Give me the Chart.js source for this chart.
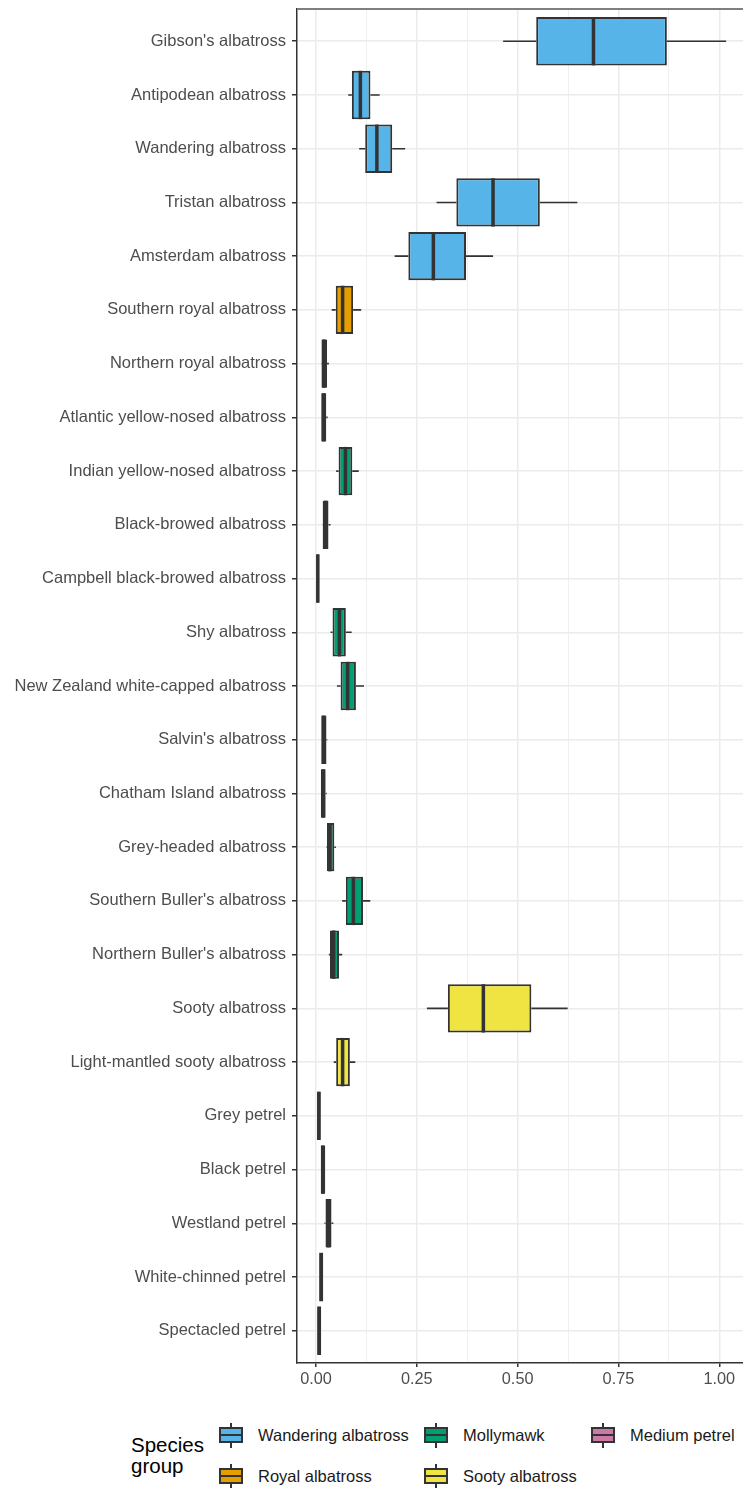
<!DOCTYPE html>
<html>
<head>
<meta charset="utf-8">
<script src="https://cdn.jsdelivr.net/npm/chart.js@4.4.1/dist/chart.umd.min.js"></script>
<style>
  html, body { margin: 0; padding: 0; background: #ffffff; }
  #wrap { position: relative; width: 743px; height: 1488px; overflow: hidden; font-family: "Liberation Sans", Arial, sans-serif; }
  #chart { position: absolute; left: 0; top: 0; }
  .title { position: absolute; left: 131px; top: 1434px; font-size: 20.5px; line-height: 21px; color: #000; }
  .lab { position: absolute; font-size: 16.5px; line-height: 18px; color: #1a1a1a; white-space: nowrap; }
  .key { position: absolute; width: 24px; height: 25px; }
  .key .wh { position: absolute; left: 11.25px; top: 0; width: 1.5px; height: 25px; background: #333333; }
  .key .bx { position: absolute; left: 0; top: 4.5px; width: 24px; height: 16px; box-sizing: border-box; border: 2px solid #333333; }
  .key .md { position: absolute; left: 0; top: 11.5px; width: 24px; height: 2px; background: #333333; }
</style>
</head>
<body>
<div id="wrap">
  <canvas id="chart" width="743" height="1400"></canvas>
  <div class="title">Species<br>group</div>
  <div id="legend"></div>
</div>
<script>
// Species, top to bottom
const species = [
  "Gibson's albatross", "Antipodean albatross", "Wandering albatross", "Tristan albatross",
  "Amsterdam albatross", "Southern royal albatross", "Northern royal albatross",
  "Atlantic yellow-nosed albatross", "Indian yellow-nosed albatross", "Black-browed albatross",
  "Campbell black-browed albatross", "Shy albatross", "New Zealand white-capped albatross",
  "Salvin's albatross", "Chatham Island albatross", "Grey-headed albatross",
  "Southern Buller's albatross", "Northern Buller's albatross", "Sooty albatross",
  "Light-mantled sooty albatross", "Grey petrel", "Black petrel", "Westland petrel",
  "White-chinned petrel", "Spectacled petrel"
];

// Species group of each row
const speciesGroup = [
  "Wandering albatross", "Wandering albatross", "Wandering albatross", "Wandering albatross",
  "Wandering albatross", "Royal albatross", "Royal albatross",
  "Mollymawk", "Mollymawk", "Mollymawk", "Mollymawk", "Mollymawk", "Mollymawk",
  "Mollymawk", "Mollymawk", "Mollymawk", "Mollymawk", "Mollymawk",
  "Sooty albatross", "Sooty albatross",
  "Medium petrel", "Medium petrel", "Medium petrel", "Medium petrel", "Medium petrel"
];

// Box statistics per species
const whiskerLow  = [0.464, 0.080, 0.107, 0.299, 0.195, 0.039, 0.013, 0.013, 0.050, 0.016, 0.001, 0.036, 0.052, 0.013, 0.012, 0.026, 0.065, 0.032, 0.275, 0.044, 0.003, 0.0117, 0.021, 0.008, 0.003];
const q1          = [0.546, 0.089, 0.122, 0.348, 0.229, 0.049, 0.0135, 0.013, 0.056, 0.0165, 0.001, 0.041, 0.061, 0.013, 0.012, 0.027, 0.074, 0.0347, 0.327, 0.050, 0.003, 0.0117, 0.0235, 0.008, 0.003];
const median      = [0.688, 0.110, 0.151, 0.439, 0.291, 0.066, 0.020, 0.019, 0.073, 0.024, 0.0045, 0.058, 0.0785, 0.019, 0.018, 0.0345, 0.0926, 0.0437, 0.415, 0.066, 0.007, 0.017, 0.031, 0.013, 0.008];
const q3          = [0.870, 0.135, 0.189, 0.555, 0.372, 0.092, 0.0275, 0.0255, 0.090, 0.031, 0.008, 0.074, 0.099, 0.026, 0.024, 0.0454, 0.1165, 0.057, 0.534, 0.084, 0.0117, 0.023, 0.0385, 0.018, 0.013];
const whiskerHigh = [1.017, 0.158, 0.221, 0.648, 0.439, 0.112, 0.032, 0.029, 0.106, 0.036, 0.008, 0.0885, 0.119, 0.028, 0.0265, 0.0495, 0.1347, 0.065, 0.624, 0.0975, 0.0117, 0.023, 0.043, 0.018, 0.013];

// Value axis ticks (labelled every 0.25, minor lines between)
const xTicks = [0, 0.125, 0.25, 0.375, 0.5, 0.625, 0.75, 0.875, 1.0];

// Legend layout order and palette
const legendGroups = ["Wandering albatross", "Royal albatross", "Mollymawk", "Sooty albatross", "Medium petrel"];
const groupColors = {
  "Wandering albatross": "#56B4E9",
  "Royal albatross": "#E69F00",
  "Mollymawk": "#009E73",
  "Sooty albatross": "#F0E442",
  "Medium petrel": "#CC79A7"
};

const FONT = '"Liberation Sans", Arial, sans-serif';
const EDGE = '#333333';
const isMajor = v => Math.abs(v * 4 - Math.round(v * 4)) < 1e-9;

// Whiskers behind the boxes, medians on top of them, plus the panel's top edge
const boxParts = {
  id: 'boxParts',
  beforeDatasetsDraw(chart) {
    const { ctx, scales: { x } } = chart;
    const meta = chart.getDatasetMeta(0);
    ctx.save();
    ctx.strokeStyle = EDGE;
    ctx.lineWidth = 1.6;
    meta.data.forEach((bar, i) => {
      const y = bar.y;
      ctx.beginPath();
      ctx.moveTo(x.getPixelForValue(whiskerLow[i]), y);
      ctx.lineTo(x.getPixelForValue(q1[i]), y);
      ctx.moveTo(x.getPixelForValue(q3[i]), y);
      ctx.lineTo(x.getPixelForValue(whiskerHigh[i]), y);
      ctx.stroke();
    });
    ctx.restore();
  },
  afterDatasetsDraw(chart) {
    const { ctx, scales: { x } } = chart;
    const meta = chart.getDatasetMeta(0);
    ctx.save();
    ctx.strokeStyle = EDGE;
    ctx.lineWidth = 3.5;
    meta.data.forEach((bar, i) => {
      const px = x.getPixelForValue(median[i]);
      ctx.beginPath();
      ctx.moveTo(px, bar.y - bar.height / 2);
      ctx.lineTo(px, bar.y + bar.height / 2);
      ctx.stroke();
    });
    ctx.restore();
  },
  afterDraw(chart) {
    const { ctx, chartArea: a } = chart;
    ctx.save();
    ctx.strokeStyle = '#7f7f7f';
    ctx.lineWidth = 2;
    ctx.beginPath();
    ctx.moveTo(a.left, a.top);
    ctx.lineTo(a.right, a.top);
    ctx.stroke();
    ctx.restore();
  }
};

new Chart(document.getElementById('chart'), {
  type: 'bar',
  data: {
    datasets: [{
      data: species.map((s, i) => ({ y: i, x: [q1[i], q3[i]] })),
      backgroundColor: speciesGroup.map(g => groupColors[g]),
      borderColor: EDGE,
      borderWidth: 2,
      borderSkipped: false,
      categoryPercentage: 1,
      barPercentage: 0.9
    }]
  },
  options: {
    indexAxis: 'y',
    responsive: false,
    animation: false,
    layout: { padding: { top: 9, left: 0, right: 0, bottom: 0 } },
    plugins: { legend: { display: false }, tooltip: { enabled: false } },
    scales: {
      x: {
        type: 'linear',
        min: -0.0471,
        max: 1.0588,
        afterBuildTicks: s => { s.ticks = xTicks.map(v => ({ value: v })); },
        afterFit: s => { s.height = 37; s.paddingLeft = 0; s.paddingRight = 0; },
        ticks: {
          callback: v => isMajor(v) ? v.toFixed(2) : '',
          color: '#4d4d4d',
          font: { family: FONT, size: 16.3 },
          padding: 3,
          maxRotation: 0,
          autoSkip: false
        },
        grid: {
          color: '#ebebeb',
          lineWidth: c => (c.tick && isMajor(c.tick.value)) ? 1.5 : 0.8,
          tickLength: 4,
          tickWidth: 1.5,
          tickColor: c => (c.tick && isMajor(c.tick.value)) ? EDGE : 'rgba(0,0,0,0)'
        },
        border: { display: true, color: EDGE, width: 1.5 }
      },
      y: {
        type: 'linear',
        reverse: true,
        offset: false,
        min: -0.6,
        max: species.length - 1 + 0.6,
        afterBuildTicks: s => { s.ticks = species.map((_, i) => ({ value: i })); },
        afterFit: s => { s.width = 297; s.paddingTop = 0; s.paddingBottom = 0; },
        ticks: {
          callback: (v, i) => species[i],
          color: '#4d4d4d',
          font: { family: FONT, size: 16.5 },
          padding: 6,
          autoSkip: false
        },
        grid: {
          offset: false,
          color: '#ebebeb',
          lineWidth: 1.5,
          tickLength: 5,
          tickWidth: 1.5,
          tickColor: EDGE
        },
        border: { display: true, color: EDGE, width: 1.5 }
      }
    }
  },
  plugins: [boxParts]
});

// Legend: two rows, filled column-wise like the plotting library's guide
const legendSlots = [
  { key: 219, text: 258, top: 1422.5, textTop: 1426 },
  { key: 219, text: 258, top: 1463.5, textTop: 1466.5 },
  { key: 424, text: 463, top: 1422.5, textTop: 1426 },
  { key: 424, text: 463, top: 1463.5, textTop: 1466.5 },
  { key: 591, text: 630, top: 1422.5, textTop: 1426 }
];
const legendEl = document.getElementById('legend');
legendGroups.forEach((g, i) => {
  const s = legendSlots[i];
  const k = document.createElement('div');
  k.className = 'key';
  k.style.left = s.key + 'px';
  k.style.top = s.top + 'px';
  k.innerHTML = '<div class="wh"></div><div class="bx" style="background:' + groupColors[g] + '"></div><div class="md"></div>';
  legendEl.appendChild(k);
  const t = document.createElement('div');
  t.className = 'lab';
  t.style.left = s.text + 'px';
  t.style.top = s.textTop + 'px';
  t.textContent = g;
  legendEl.appendChild(t);
});
</script>
</body>
</html>
